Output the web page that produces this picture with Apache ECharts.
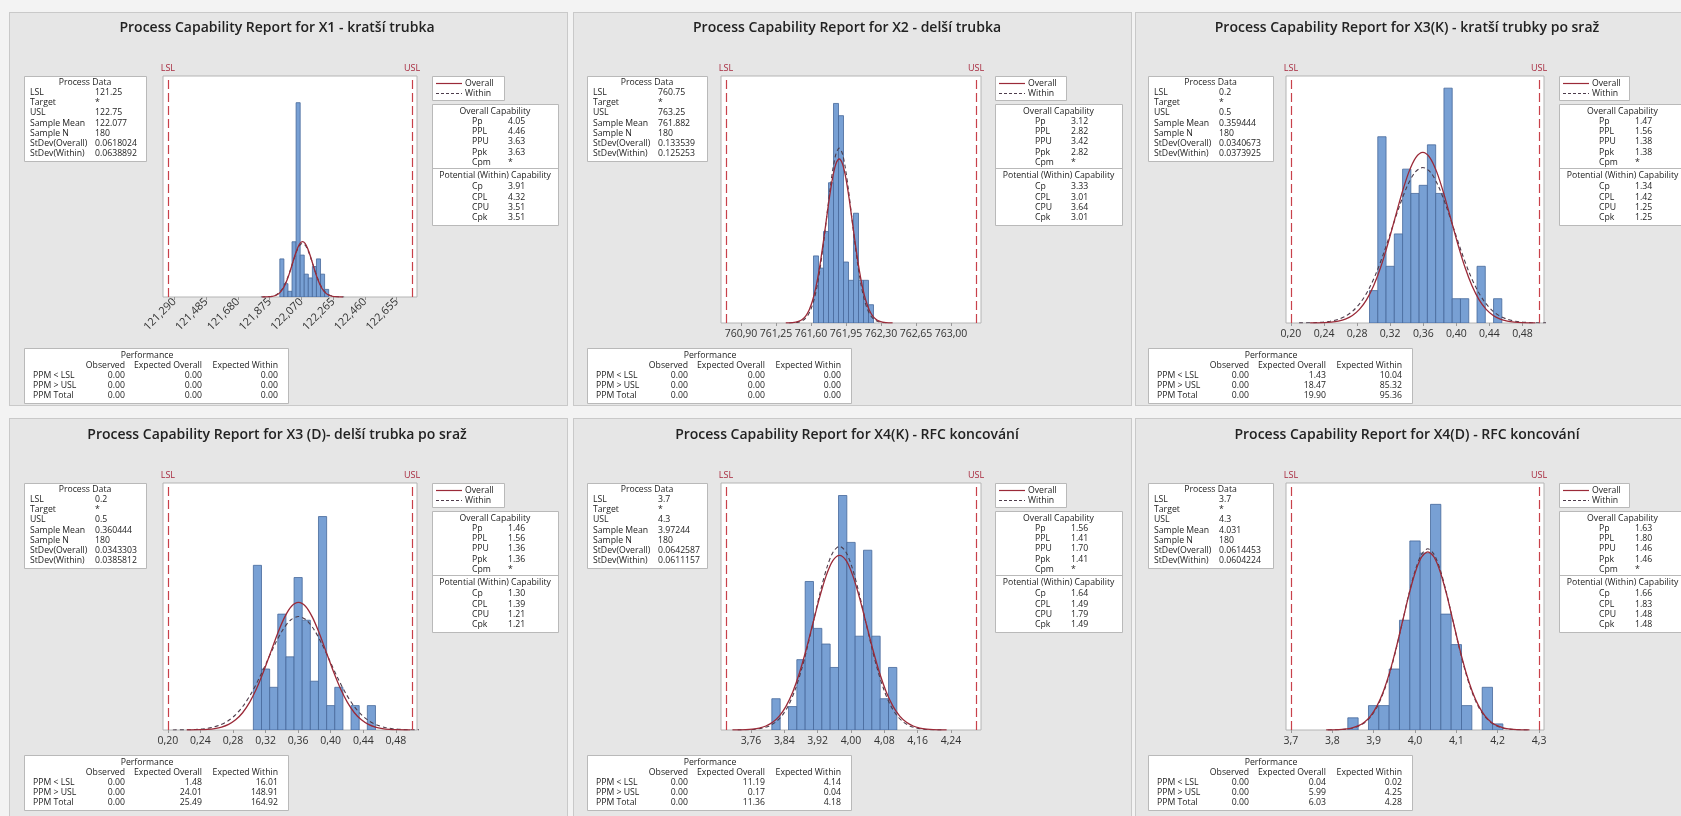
<!DOCTYPE html>
<html lang="cs">
<head>
<meta charset="UTF-8">
<title>Process Capability Reports</title>
<script src="https://cdn.jsdelivr.net/npm/echarts/dist/echarts.min.js"></script>
<style>
  html, body { margin: 0; padding: 0; background: #f3f3f3; }
  #wrap { position: relative; width: 1681px; height: 816px; overflow: hidden; }
  .panel { position: absolute; background: #e6e6e6; border: 1px solid #c9c9c9; box-sizing: border-box; }
  #main { position: absolute; left: 0; top: 0; width: 1681px; height: 816px; }
</style>
</head>
<body>
<div id="wrap">
  <div class="panel" style="left:9px;top:12px;width:559px;height:394px"></div>
  <div class="panel" style="left:573px;top:12px;width:559px;height:394px"></div>
  <div class="panel" style="left:1135px;top:12px;width:560px;height:394px"></div>
  <div class="panel" style="left:9px;top:418px;width:559px;height:400px"></div>
  <div class="panel" style="left:573px;top:418px;width:559px;height:400px"></div>
  <div class="panel" style="left:1135px;top:418px;width:560px;height:400px"></div>
  <div id="main"></div>
</div>

<script>
// ---- X1 - kratší trubka
var x1Bins = [121.95, 121.975, 122.0, 122.025, 122.05, 122.075, 122.1, 122.125, 122.15, 122.175, 122.2, 122.225];
var x1Counts = [20, 7, 3, 29, 102, 22, 12, 10, 16, 20, 12, 4];
var x1OverallX = [121.8298, 121.8607, 121.8761, 121.8916, 121.907, 121.9225, 121.9379, 121.9534, 121.9688, 121.9843, 121.9998, 122.0152, 122.0307, 122.0461, 122.0616, 122.077, 122.0925, 122.1079, 122.1234, 122.1388, 122.1543, 122.1697, 122.1852, 122.2006, 122.2161, 122.2315, 122.247, 122.2624, 122.2779, 122.2933, 122.3242];
var x1OverallY = [0.01, 0.064, 0.148, 0.323, 0.662, 1.276, 2.311, 3.932, 6.283, 9.431, 13.3, 17.62, 21.93, 25.64, 28.16, 29.05, 28.16, 25.64, 21.93, 17.62, 13.3, 9.431, 6.283, 3.932, 2.311, 1.276, 0.662, 0.323, 0.148, 0.064, 0.01];
var x1WithinX = [121.8214, 121.8534, 121.8694, 121.8853, 121.9013, 121.9173, 121.9333, 121.9492, 121.9652, 121.9812, 121.9971, 122.0131, 122.0291, 122.0451, 122.061, 122.077, 122.093, 122.1089, 122.1249, 122.1409, 122.1569, 122.1728, 122.1888, 122.2048, 122.2208, 122.2367, 122.2527, 122.2687, 122.2846, 122.3006, 122.3326];
var x1WithinY = [0.01, 0.062, 0.143, 0.312, 0.64, 1.235, 2.236, 3.803, 6.077, 9.123, 12.87, 17.04, 21.21, 24.8, 27.24, 28.1, 27.24, 24.8, 21.21, 17.04, 12.87, 9.123, 6.077, 3.803, 2.236, 1.235, 0.64, 0.312, 0.143, 0.062, 0.01];
var x1Ticks = [121.29, 121.485, 121.68, 121.875, 122.07, 122.265, 122.46, 122.655];
var x1Spec = [121.25, 122.75];
var x1ProcessData = ['121.25', '*', '122.75', '122.077', '180', '0.0618024', '0.0638892'];
var x1OverallCap = ['4.05', '4.46', '3.63', '3.63', '*'];
var x1WithinCap = ['3.91', '4.32', '3.51', '3.51'];
var x1Perf = [['0.00', '0.00', '0.00'], ['0.00', '0.00', '0.00'], ['0.00', '0.00', '0.00']];

// ---- X2 - delší trubka
var x2Bins = [761.65, 761.7, 761.75, 761.8, 761.85, 761.9, 761.95, 762.0, 762.05, 762.1, 762.15, 762.2];
var x2Counts = [11, 9, 15, 23, 36, 34, 10, 7, 18, 7, 7, 3];
var x2OverallX = [761.3478, 761.4146, 761.448, 761.4814, 761.5148, 761.5482, 761.5815, 761.6149, 761.6483, 761.6817, 761.7151, 761.7485, 761.7818, 761.8152, 761.8486, 761.882, 761.9154, 761.9488, 761.9822, 762.0155, 762.0489, 762.0823, 762.1157, 762.1491, 762.1825, 762.2159, 762.2492, 762.2826, 762.316, 762.3494, 762.4162];
var x2OverallY = [0.01, 0.059, 0.137, 0.299, 0.613, 1.182, 2.139, 3.639, 5.816, 8.73, 12.31, 16.31, 20.3, 23.73, 26.06, 26.89, 26.06, 23.73, 20.3, 16.31, 12.31, 8.73, 5.816, 3.639, 2.139, 1.182, 0.613, 0.299, 0.137, 0.059, 0.01];
var x2WithinX = [761.381, 761.4436, 761.4749, 761.5062, 761.5376, 761.5689, 761.6002, 761.6315, 761.6628, 761.6941, 761.7254, 761.7568, 761.7881, 761.8194, 761.8507, 761.882, 761.9133, 761.9446, 761.9759, 762.0073, 762.0386, 762.0699, 762.1012, 762.1325, 762.1638, 762.1951, 762.2265, 762.2578, 762.2891, 762.3204, 762.383];
var x2WithinY = [0.01, 0.063, 0.146, 0.319, 0.653, 1.26, 2.281, 3.88, 6.2, 9.308, 13.13, 17.39, 21.64, 25.3, 27.79, 28.67, 27.79, 25.3, 21.64, 17.39, 13.13, 9.308, 6.2, 3.88, 2.281, 1.26, 0.653, 0.319, 0.146, 0.063, 0.01];
var x2Ticks = [760.9, 761.25, 761.6, 761.95, 762.3, 762.65, 763.0];
var x2Spec = [760.75, 763.25];
var x2ProcessData = ['760.75', '*', '763.25', '761.882', '180', '0.133539', '0.125253'];
var x2OverallCap = ['3.12', '2.82', '3.42', '2.82', '*'];
var x2WithinCap = ['3.33', '3.01', '3.64', '3.01'];
var x2Perf = [['0.00', '0.00', '0.00'], ['0.00', '0.00', '0.00'], ['0.00', '0.00', '0.00']];

// ---- X3(K) - kratší trubky po sraž
var x3kBins = [0.30, 0.31, 0.32, 0.33, 0.34, 0.35, 0.36, 0.37, 0.38, 0.39, 0.40, 0.41, 0.42, 0.43, 0.44, 0.45];
var x3kCounts = [4, 23, 7, 11, 19, 16, 17, 22, 16, 29, 3, 3, 0, 7, 0, 3];
var x3kOverallX = [0.223175, 0.240208, 0.248725, 0.257242, 0.265759, 0.274276, 0.282793, 0.291309, 0.299826, 0.308343, 0.31686, 0.325377, 0.333894, 0.34241, 0.350927, 0.359444, 0.367961, 0.376478, 0.384994, 0.393511, 0.402028, 0.410545, 0.419062, 0.427579, 0.436095, 0.444612, 0.453129, 0.461646, 0.470163, 0.47868, 0.495713];
var x3kOverallY = [0.01, 0.046, 0.107, 0.234, 0.48, 0.926, 1.677, 2.853, 4.559, 6.844, 9.651, 12.79, 15.91, 18.6, 20.43, 21.08, 20.43, 18.6, 15.91, 12.79, 9.651, 6.844, 4.559, 2.853, 1.677, 0.926, 0.48, 0.234, 0.107, 0.046, 0.01];
var x3kWithinX = [0.209874, 0.22857, 0.237918, 0.247266, 0.256615, 0.265963, 0.275311, 0.284659, 0.294007, 0.303355, 0.312703, 0.322051, 0.3314, 0.340748, 0.350096, 0.359444, 0.368792, 0.37814, 0.387488, 0.396837, 0.406185, 0.415533, 0.424881, 0.434229, 0.443577, 0.452925, 0.462273, 0.471622, 0.48097, 0.490318, 0.509014];
var x3kWithinY = [0.01, 0.042, 0.098, 0.213, 0.438, 0.844, 1.528, 2.599, 4.152, 6.233, 8.79, 11.65, 14.49, 16.94, 18.61, 19.2, 18.61, 16.94, 14.49, 11.65, 8.79, 6.233, 4.152, 2.599, 1.528, 0.844, 0.438, 0.213, 0.098, 0.042, 0.01];
var x3kTicks = [0.20, 0.24, 0.28, 0.32, 0.36, 0.40, 0.44, 0.48];
var x3kSpec = [0.2, 0.5];
var x3kProcessData = ['0.2', '*', '0.5', '0.359444', '180', '0.0340673', '0.0373925'];
var x3kOverallCap = ['1.47', '1.56', '1.38', '1.38', '*'];
var x3kWithinCap = ['1.34', '1.42', '1.25', '1.25'];
var x3kPerf = [['0.00', '1.43', '10.04'], ['0.00', '18.47', '85.32'], ['0.00', '19.90', '95.36']];

// ---- X3 (D) - delší trubka po sraž
var x3dBins = [0.31, 0.32, 0.33, 0.34, 0.35, 0.36, 0.37, 0.38, 0.39, 0.40, 0.41, 0.42, 0.43, 0.44, 0.45];
var x3dCounts = [27, 10, 7, 19, 12, 25, 18, 8, 35, 4, 7, 0, 4, 0, 4];
var x3dOverallX = [0.223123, 0.240288, 0.24887, 0.257453, 0.266036, 0.274618, 0.283201, 0.291783, 0.300366, 0.308949, 0.317531, 0.326114, 0.334696, 0.343279, 0.351861, 0.360444, 0.369027, 0.377609, 0.386192, 0.394774, 0.403357, 0.411939, 0.420522, 0.429105, 0.437687, 0.44627, 0.454852, 0.463435, 0.472018, 0.4806, 0.497765];
var x3dOverallY = [0.01, 0.046, 0.106, 0.232, 0.477, 0.919, 1.664, 2.831, 4.524, 6.792, 9.578, 12.69, 15.79, 18.46, 20.28, 20.92, 20.28, 18.46, 15.79, 12.69, 9.578, 6.792, 4.524, 2.831, 1.664, 0.919, 0.477, 0.232, 0.106, 0.046, 0.01];
var x3dWithinX = [0.206119, 0.22541, 0.235055, 0.2447, 0.254346, 0.263991, 0.273636, 0.283282, 0.292927, 0.302572, 0.312217, 0.321863, 0.331508, 0.341153, 0.350799, 0.360444, 0.370089, 0.379735, 0.38938, 0.399025, 0.408671, 0.418316, 0.427961, 0.437606, 0.447252, 0.456897, 0.466542, 0.476188, 0.485833, 0.495478, 0.514769];
var x3dWithinY = [0.01, 0.041, 0.095, 0.207, 0.424, 0.818, 1.481, 2.519, 4.025, 6.042, 8.52, 11.29, 14.05, 16.42, 18.04, 18.61, 18.04, 16.42, 14.05, 11.29, 8.52, 6.042, 4.025, 2.519, 1.481, 0.818, 0.424, 0.207, 0.095, 0.041, 0.01];
var x3dTicks = [0.20, 0.24, 0.28, 0.32, 0.36, 0.40, 0.44, 0.48];
var x3dSpec = [0.2, 0.5];
var x3dProcessData = ['0.2', '*', '0.5', '0.360444', '180', '0.0343303', '0.0385812'];
var x3dOverallCap = ['1.46', '1.56', '1.36', '1.36', '*'];
var x3dWithinCap = ['1.30', '1.39', '1.21', '1.21'];
var x3dPerf = [['0.00', '1.48', '16.01'], ['0.00', '24.01', '148.91'], ['0.00', '25.49', '164.92']];

// ---- X4(K) - RFC koncování
var x4kBins = [3.82, 3.84, 3.86, 3.88, 3.90, 3.92, 3.94, 3.96, 3.98, 4.00, 4.02, 4.04, 4.06, 4.08, 4.10];
var x4kCounts = [4, 0, 3, 9, 19, 13, 11, 8, 30, 24, 12, 23, 12, 4, 8];
var x4kOverallX = [3.715405, 3.747535, 3.763599, 3.779664, 3.795729, 3.811793, 3.827858, 3.843923, 3.859987, 3.876052, 3.892117, 3.908181, 3.924246, 3.940311, 3.956375, 3.97244, 3.988505, 4.004569, 4.020634, 4.036699, 4.052763, 4.068828, 4.084893, 4.100957, 4.117022, 4.133087, 4.149151, 4.165216, 4.181281, 4.197345, 4.229475];
var x4kOverallY = [0.01, 0.049, 0.114, 0.248, 0.509, 0.982, 1.778, 3.025, 4.834, 7.256, 10.23, 13.56, 16.87, 19.72, 21.66, 22.35, 21.66, 19.72, 16.87, 13.56, 10.23, 7.256, 4.834, 3.025, 1.778, 0.982, 0.509, 0.248, 0.114, 0.049, 0.01];
var x4kWithinX = [3.727977, 3.758535, 3.773814, 3.789093, 3.804372, 3.819651, 3.83493, 3.850209, 3.865487, 3.880766, 3.896045, 3.911324, 3.926603, 3.941882, 3.957161, 3.97244, 3.987719, 4.002998, 4.018277, 4.033556, 4.048835, 4.064114, 4.079393, 4.094671, 4.10995, 4.125229, 4.140508, 4.155787, 4.171066, 4.186345, 4.216903];
var x4kWithinY = [0.01, 0.051, 0.119, 0.261, 0.536, 1.033, 1.87, 3.18, 5.082, 7.629, 10.76, 14.25, 17.74, 20.74, 22.78, 23.5, 22.78, 20.74, 17.74, 14.25, 10.76, 7.629, 5.082, 3.18, 1.87, 1.033, 0.536, 0.261, 0.119, 0.051, 0.01];
var x4kTicks = [3.76, 3.84, 3.92, 4.00, 4.08, 4.16, 4.24];
var x4kSpec = [3.7, 4.3];
var x4kProcessData = ['3.7', '*', '4.3', '3.97244', '180', '0.0642587', '0.0611157'];
var x4kOverallCap = ['1.56', '1.41', '1.70', '1.41', '*'];
var x4kWithinCap = ['1.64', '1.49', '1.79', '1.49'];
var x4kPerf = [['0.00', '11.19', '4.14'], ['0.00', '0.17', '0.04'], ['0.00', '11.36', '4.18']];

// ---- X4(D) - RFC koncování
var x4dBins = [3.85, 3.875, 3.9, 3.925, 3.95, 3.975, 4.0, 4.025, 4.05, 4.075, 4.1, 4.125, 4.15, 4.175, 4.2];
var x4dCounts = [2, 0, 4, 4, 10, 18, 31, 29, 37, 19, 14, 4, 0, 7, 1];
var x4dOverallX = [3.785219, 3.815941, 3.831303, 3.846664, 3.862025, 3.877387, 3.892748, 3.908109, 3.923471, 3.938832, 3.954193, 3.969555, 3.984916, 4.000277, 4.015639, 4.031, 4.046361, 4.061723, 4.077084, 4.092445, 4.107807, 4.123168, 4.138529, 4.153891, 4.169252, 4.184613, 4.199975, 4.215336, 4.230697, 4.246059, 4.276781];
var x4dOverallY = [0.01, 0.064, 0.148, 0.325, 0.666, 1.284, 2.325, 3.955, 6.319, 9.486, 13.38, 17.72, 22.06, 25.79, 28.32, 29.22, 28.32, 25.79, 22.06, 17.72, 13.38, 9.486, 6.319, 3.955, 2.325, 1.284, 0.666, 0.325, 0.148, 0.064, 0.01];
var x4dWithinX = [3.78931, 3.819522, 3.834627, 3.849733, 3.864838, 3.879944, 3.89505, 3.910155, 3.925261, 3.940366, 3.955472, 3.970578, 3.985683, 4.000789, 4.015894, 4.031, 4.046106, 4.061211, 4.076317, 4.091422, 4.106528, 4.121634, 4.136739, 4.151845, 4.16695, 4.182056, 4.197162, 4.212267, 4.227373, 4.242478, 4.27269];
var x4dWithinY = [0.01, 0.065, 0.151, 0.33, 0.677, 1.305, 2.364, 4.021, 6.425, 9.645, 13.6, 18.02, 22.43, 26.22, 28.8, 29.71, 28.8, 26.22, 22.43, 18.02, 13.6, 9.645, 6.425, 4.021, 2.364, 1.305, 0.677, 0.33, 0.151, 0.065, 0.01];
var x4dTicks = [3.7, 3.8, 3.9, 4.0, 4.1, 4.2, 4.3];
var x4dSpec = [3.7, 4.3];
var x4dProcessData = ['3.7', '*', '4.3', '4.031', '180', '0.0614453', '0.0604224'];
var x4dOverallCap = ['1.63', '1.80', '1.46', '1.46', '*'];
var x4dWithinCap = ['1.66', '1.83', '1.48', '1.48'];
var x4dPerf = [['0.00', '0.04', '0.02'], ['0.00', '5.99', '4.25'], ['0.00', '6.03', '4.28']];

var panels = [
    {title: 'Process Capability Report for X1 - kratší trubka', bins: x1Bins, counts: x1Counts, binW: 0.025,
     ovX: x1OverallX, ovY: x1OverallY, wiX: x1WithinX, wiY: x1WithinY, ticks: x1Ticks, dec: 3, rotate: true,
     spec: x1Spec, range: [121.22, 122.78], yMax: 116, pd: x1ProcessData, oc: x1OverallCap, wc: x1WithinCap, perf: x1Perf},
    {title: 'Process Capability Report for X2 - delší trubka', bins: x2Bins, counts: x2Counts, binW: 0.05,
     ovX: x2OverallX, ovY: x2OverallY, wiX: x2WithinX, wiY: x2WithinY, ticks: x2Ticks, dec: 2,
     spec: x2Spec, range: [760.70, 763.30], yMax: 40.5, pd: x2ProcessData, oc: x2OverallCap, wc: x2WithinCap, perf: x2Perf},
    {title: 'Process Capability Report for X3(K) - kratší trubky po sraž', bins: x3kBins, counts: x3kCounts, binW: 0.01,
     ovX: x3kOverallX, ovY: x3kOverallY, wiX: x3kWithinX, wiY: x3kWithinY, ticks: x3kTicks, dec: 2,
     spec: x3kSpec, range: [0.194, 0.506], yMax: 30.5, pd: x3kProcessData, oc: x3kOverallCap, wc: x3kWithinCap, perf: x3kPerf},
    {title: 'Process Capability Report for X3 (D)- delší trubka po sraž', bins: x3dBins, counts: x3dCounts, binW: 0.01,
     ovX: x3dOverallX, ovY: x3dOverallY, wiX: x3dWithinX, wiY: x3dWithinY, ticks: x3dTicks, dec: 2,
     spec: x3dSpec, range: [0.194, 0.506], yMax: 40.5, pd: x3dProcessData, oc: x3dOverallCap, wc: x3dWithinCap, perf: x3dPerf},
    {title: 'Process Capability Report for X4(K) - RFC koncování', bins: x4kBins, counts: x4kCounts, binW: 0.02,
     ovX: x4kOverallX, ovY: x4kOverallY, wiX: x4kWithinX, wiY: x4kWithinY, ticks: x4kTicks, dec: 2,
     spec: x4kSpec, range: [3.688, 4.312], yMax: 31.6, pd: x4kProcessData, oc: x4kOverallCap, wc: x4kWithinCap, perf: x4kPerf},
    {title: 'Process Capability Report for X4(D) - RFC koncování', bins: x4dBins, counts: x4dCounts, binW: 0.025,
     ovX: x4dOverallX, ovY: x4dOverallY, wiX: x4dWithinX, wiY: x4dWithinY, ticks: x4dTicks, dec: 1,
     spec: x4dSpec, range: [3.688, 4.312], yMax: 40.5, pd: x4dProcessData, oc: x4dOverallCap, wc: x4dWithinCap, perf: x4dPerf}
];

var FONT = '"Open Sans", "Noto Sans", sans-serif';
var TXT = '#222';
var BAR_FILL = '#78a0d4', BAR_EDGE = '#46689a';
var OVERALL = '#9b2a38', WITHIN = '#4d3c4b', SPEC = '#c8414a';

// panel layout: column x origins and the plot box inside each column
var cols = [
    {ox: 0, plotL: 163, plotW: 254, pdX: 24, pdW: 122, lgX: 432, lgW: 72, capW: 126, pfX: 24},
    {ox: 570, plotL: 151, plotW: 260, pdX: 17, pdW: 120, lgX: 425, lgW: 71, capW: 127, pfX: 17},
    {ox: 1130, plotL: 156, plotW: 258, pdX: 18, pdW: 125, lgX: 429, lgW: 70, capW: 127, pfX: 18}
];
var rowsY = [0, 407];
var LINE = 10.2;

function txt(x, y, s, align, size) {
    return {
        type: 'text', x: x, y: y, silent: true, z: 10,
        style: {
            text: s, fill: TXT, fontFamily: FONT, fontSize: size || 8.7,
            textAlign: align || 'left', align: align || 'left',
            textVerticalAlign: 'middle', verticalAlign: 'middle'
        }
    };
}
function box(x, y, w, h) {
    return {
        type: 'rect', silent: true, z: 9,
        shape: {x: Math.round(x) + 0.5, y: Math.round(y) + 0.5, width: w, height: h},
        style: {fill: '#fff', stroke: '#b9b9b9', lineWidth: 1}
    };
}
function hline(x1, x2, y, color, dash, width) {
    return {
        type: 'line', silent: true, z: 10,
        shape: {x1: x1, y1: Math.round(y) + 0.5, x2: x2, y2: Math.round(y) + 0.5},
        style: {stroke: color, lineWidth: width || 1, lineDash: dash || null}
    };
}

var option = {
    animation: false,
    title: [], grid: [], xAxis: [], yAxis: [], series: [],
    graphic: {elements: []}
};
var els = option.graphic.elements;

panels.forEach(function (p, i) {
    var col = cols[i % 3];
    var ox = col.ox, oy = rowsY[Math.floor(i / 3)];
    var plotTop = oy + 76;
    var plotH = p.rotate ? 221 : 247;

    option.title.push({
        text: p.title, left: ox + 277, top: oy + 21, textAlign: 'center', padding: 0,
        textStyle: {fontFamily: FONT, fontSize: 14, fontWeight: 600, color: '#222'}
    });
    option.grid.push({
        left: ox + col.plotL, top: plotTop, width: col.plotW, height: plotH,
        show: true, backgroundColor: '#fff', borderColor: '#b4b4b4', borderWidth: 1
    });
    option.xAxis.push({
        type: 'value', gridIndex: i, min: p.range[0], max: p.range[1],
        splitLine: {show: false},
        axisLine: {show: false},
        axisTick: {show: true, length: 3, lineStyle: {color: '#999'}, customValues: p.ticks},
        axisLabel: {
            customValues: p.ticks,
            formatter: function (v) { return v.toFixed(p.dec).replace('.', ','); },
            fontFamily: FONT, fontSize: p.rotate ? 11 : 10.5, color: '#333',
            rotate: p.rotate ? 45 : 0, margin: p.rotate ? 3 : 6
        }
    });
    option.yAxis.push({type: 'value', gridIndex: i, min: 0, max: p.yMax, show: false});

    option.series.push({
        type: 'custom', name: 'Histogram', xAxisIndex: i, yAxisIndex: i, silent: true, z: 2, clip: true,
        data: p.bins.map(function (b, k) { return [b, p.counts[k]]; }),
        renderItem: function (params, api) {
            var c = api.value(0), n = api.value(1);
            if (!n) return null;
            var a = api.coord([c - p.binW / 2, n]);
            var b = api.coord([c + p.binW / 2, 0]);
            return {
                type: 'rect',
                shape: {x: a[0], y: a[1], width: b[0] - a[0], height: b[1] - a[1]},
                style: {fill: BAR_FILL, stroke: BAR_EDGE, lineWidth: 0.8}
            };
        }
    });
    option.series.push({
        type: 'line', name: 'Overall', xAxisIndex: i, yAxisIndex: i, silent: true, z: 4,
        data: p.ovX.map(function (x, k) { return [x, p.ovY[k]]; }),
        smooth: 0.3, showSymbol: false,
        lineStyle: {color: OVERALL, width: 1.3},
        markLine: {
            silent: true, symbol: 'none', animation: false,
            lineStyle: {color: SPEC, width: 1.2, type: [9, 4]},
            label: {show: true, position: 'end', formatter: '{b}', color: '#a8293e', fontFamily: FONT, fontSize: 9, distance: 3},
            data: [{name: 'LSL', xAxis: p.spec[0]}, {name: 'USL', xAxis: p.spec[1]}]
        }
    });
    option.series.push({
        type: 'line', name: 'Within', xAxisIndex: i, yAxisIndex: i, silent: true, z: 3,
        data: p.wiX.map(function (x, k) { return [x, p.wiY[k]]; }),
        smooth: 0.3, showSymbol: false,
        lineStyle: {color: WITHIN, width: 1.1, type: [4, 3]}
    });

    // Process Data box
    var bx = ox + col.pdX, by = oy + 76;
    els.push(box(bx, by, col.pdW, 85));
    els.push(txt(bx + col.pdW / 2, by + 7, 'Process Data', 'center'));
    ['LSL', 'Target', 'USL', 'Sample Mean', 'Sample N', 'StDev(Overall)', 'StDev(Within)'].forEach(function (lab, k) {
        els.push(txt(bx + 6, by + 16.5 + k * LINE, lab));
        els.push(txt(bx + 71, by + 16.5 + k * LINE, p.pd[k]));
    });

    // legend box
    var lx = ox + col.lgX, ly = oy + 76;
    els.push(box(lx, ly, col.lgW, 24));
    els.push(hline(lx + 4, lx + 30, ly + 7, OVERALL, null, 1.2));
    els.push(txt(lx + 33, ly + 7.5, 'Overall'));
    els.push(hline(lx + 4, lx + 30, ly + 17, WITHIN, [3, 2], 1.1));
    els.push(txt(lx + 33, ly + 17.5, 'Within'));

    // capability box
    var cx = lx, cy = oy + 104;
    els.push(box(cx, cy, col.capW, 121));
    els.push(txt(cx + col.capW / 2, cy + 8, 'Overall Capability', 'center'));
    ['Pp', 'PPL', 'PPU', 'Ppk', 'Cpm'].forEach(function (lab, k) {
        els.push(txt(cx + 40, cy + 17.5 + k * LINE, lab));
        els.push(txt(cx + 76, cy + 17.5 + k * LINE, p.oc[k]));
    });
    els.push(hline(cx, cx + col.capW, cy + 64, '#b9b9b9'));
    els.push(txt(cx + col.capW / 2, cy + 71.5, 'Potential (Within) Capability', 'center'));
    ['Cp', 'CPL', 'CPU', 'Cpk'].forEach(function (lab, k) {
        els.push(txt(cx + 40, cy + 83 + k * LINE, lab));
        els.push(txt(cx + 76, cy + 83 + k * LINE, p.wc[k]));
    });

    // performance box
    var fx = ox + col.pfX, fy = oy + 348;
    els.push(box(fx, fy, 264, 55));
    els.push(txt(fx + 123, fy + 7.5, 'Performance', 'center'));
    els.push(txt(fx + 101, fy + 17.5, 'Observed', 'right'));
    els.push(txt(fx + 178, fy + 17.5, 'Expected Overall', 'right'));
    els.push(txt(fx + 254, fy + 17.5, 'Expected Within', 'right'));
    ['PPM < LSL', 'PPM > USL', 'PPM Total'].forEach(function (lab, k) {
        var yy = fy + 28 + k * 9.9;
        els.push(txt(fx + 9, yy, lab));
        els.push(txt(fx + 101, yy, p.perf[k][0], 'right'));
        els.push(txt(fx + 178, yy, p.perf[k][1], 'right'));
        els.push(txt(fx + 254, yy, p.perf[k][2], 'right'));
    });
});

var myChart = echarts.init(document.getElementById('main'));
myChart.setOption(option);
</script>
</body>
</html>
